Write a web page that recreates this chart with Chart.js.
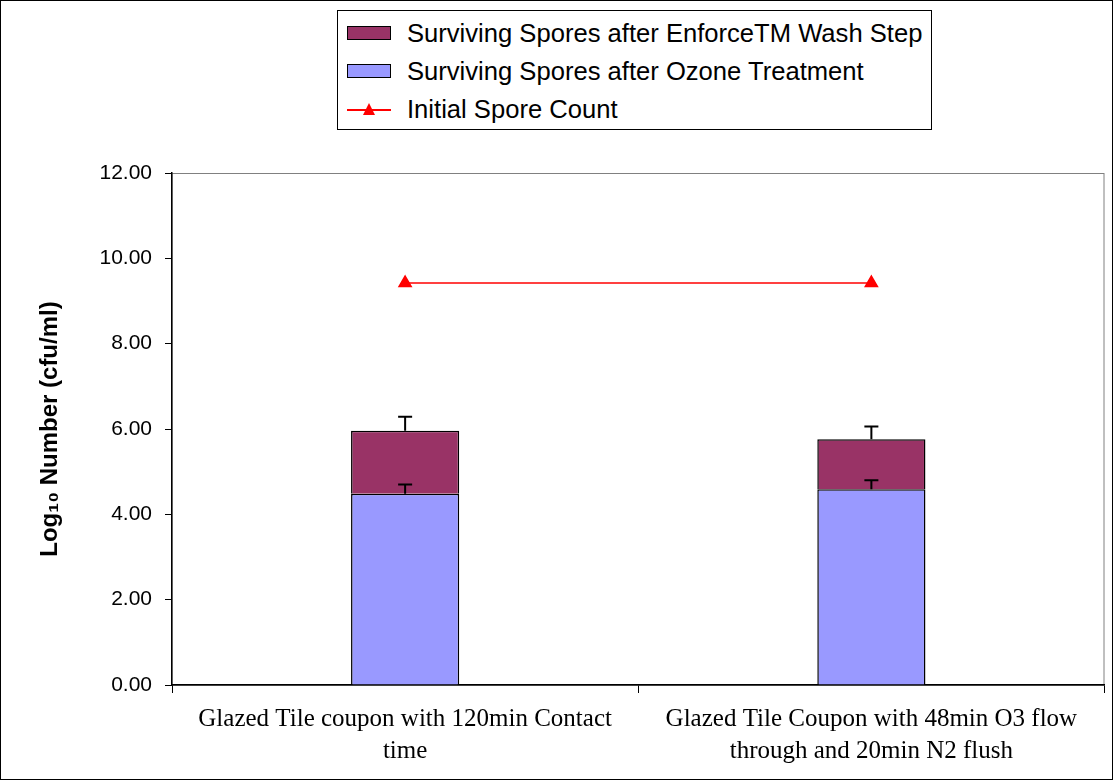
<!DOCTYPE html>
<html>
<head>
<meta charset="utf-8">
<script src="https://cdn.jsdelivr.net/npm/chart.js@4.4.1/dist/chart.umd.min.js"></script>
<style>
  html, body { margin: 0; padding: 0; background: #fff; }
  #wrap { position: relative; width: 1113px; height: 780px; }
  #legend {
    position: absolute; left: 337px; top: 10px; width: 595px; height: 120px;
    border: 1px solid #000; background: #fff;
    font: 25.6px "Liberation Sans", Arial, sans-serif; color: #000;
    box-sizing: border-box; padding-top: 3px;
  }
  .row { height: 38px; display: flex; align-items: center; padding-left: 9px; }
  .row span { margin-left: 16px; white-space: nowrap; }
  .swatch { width: 42px; height: 12px; border: 1.5px solid #000; }
  .lineSw { width: 44px; height: 14px; position: relative; }
  .lineSw:before { content: ""; position: absolute; left: 0; right: 0; top: 7px; height: 1.5px; background: #f00; }
  .lineSw:after { content: ""; position: absolute; left: 16px; top: 1px; border-left: 6px solid transparent; border-right: 6px solid transparent; border-bottom: 12px solid #f00; }
</style>
</head>
<body>
<div id="wrap">
  <canvas id="chart" width="1113" height="780"></canvas>
  <div id="legend">
    <div class="row"><div class="swatch" style="background:#993366"></div><span>Surviving Spores after EnforceTM Wash Step</span></div>
    <div class="row"><div class="swatch" style="background:#9999ff"></div><span>Surviving Spores after Ozone Treatment</span></div>
    <div class="row"><div class="lineSw"></div><span>Initial Spore Count</span></div>
  </div>
</div>
<script>
const categories = [
  ["Glazed Tile coupon with 120min Contact", "time"],
  ["Glazed Tile Coupon with 48min O3 flow", "through and 20min N2 flush"],
];
const ozoneSurvivors = [4.48, 4.59];
const ozoneErr = [0.22, 0.21];
const washSurvivors = [1.48, 1.17];
const washErr = [0.33, 0.30];
const initialCount = [9.42, 9.42];

// upper error bars on each stacked segment
const errorBars = {
  id: "errorBars",
  afterDatasetsDraw(chart) {
    const ctx = chart.ctx;
    const y = chart.scales.y;
    ctx.save();
    ctx.strokeStyle = "#000";
    ctx.lineWidth = 2;
    for (let i = 0; i < categories.length; i++) {
      const segs = [
        { meta: chart.getDatasetMeta(0), top: ozoneSurvivors[i], err: ozoneErr[i] },
        { meta: chart.getDatasetMeta(1), top: ozoneSurvivors[i] + washSurvivors[i], err: washErr[i] },
      ];
      for (const s of segs) {
        const bar = s.meta.data[i];
        const y0 = y.getPixelForValue(s.top);
        const y1 = y.getPixelForValue(s.top + s.err);
        ctx.beginPath();
        ctx.moveTo(bar.x, y0);
        ctx.lineTo(bar.x, y1);
        ctx.moveTo(bar.x - 7, y1);
        ctx.lineTo(bar.x + 7, y1);
        ctx.stroke();
      }
    }
    ctx.restore();
  },
};

const frames = {
  id: "frames",
  beforeDraw(chart) {
    const { ctx, chartArea } = chart;
    ctx.save();
    ctx.strokeStyle = "#808080";
    ctx.lineWidth = 1;
    ctx.strokeRect(chartArea.left, chartArea.top + 0.5, chartArea.right - chartArea.left - 0.5, chartArea.bottom - chartArea.top);
    ctx.restore();
  },
  afterDraw(chart) {
    const ctx = chart.ctx;
    ctx.save();
    ctx.strokeStyle = "#000";
    ctx.lineWidth = 1;
    ctx.strokeRect(0.5, 0.5, chart.width - 1, chart.height - 1);
    ctx.restore();
  },
};

new Chart(document.getElementById("chart").getContext("2d"), {
  type: "bar",
  data: {
    labels: categories,
    datasets: [
      {
        label: "Surviving Spores after Ozone Treatment",
        data: ozoneSurvivors,
        backgroundColor: "#9999ff",
        borderColor: "#000",
        borderWidth: 1.5,
        stack: "spores",
        barPercentage: 0.232,
        categoryPercentage: 1,
        order: 2,
      },
      {
        label: "Surviving Spores after EnforceTM Wash Step",
        data: washSurvivors,
        backgroundColor: "#993366",
        borderColor: "#000",
        borderWidth: 1.5,
        stack: "spores",
        barPercentage: 0.232,
        categoryPercentage: 1,
        order: 2,
      },
      {
        type: "line",
        label: "Initial Spore Count",
        data: initialCount,
        borderColor: "#ff0000",
        borderWidth: 1.5,
        backgroundColor: "#ff0000",
        pointStyle: "triangle",
        pointRadius: 7,
        stack: "initial",
        order: 1,
      },
    ],
  },
  options: {
    responsive: false,
    animation: false,
    layout: { padding: { top: 173, right: 8, left: 0, bottom: 0 } },
    scales: {
      x: {
        stacked: true,
        grid: { drawOnChartArea: false, color: "#000", tickLength: 8, offset: true },
        border: { color: "#000", width: 1.5 },
        ticks: {
          color: "#000",
          padding: 10,
          maxRotation: 0,
          font: { family: "'Liberation Serif', 'Times New Roman', serif", size: 25, lineHeight: 1.28 },
        },
        afterFit(scale) { scale.height = 95; },
      },
      y: {
        stacked: true,
        min: 0,
        max: 12,
        grid: { drawOnChartArea: false, color: "#000", tickLength: 7 },
        border: { color: "#000", width: 1.5 },
        ticks: {
          stepSize: 2,
          color: "#000",
          padding: 13,
          font: { family: "'Liberation Sans', Arial, sans-serif", size: 21 },
          callback: (v) => v.toFixed(2),
        },
        title: {
          display: true,
          text: "Log\u2081\u2080 Number (cfu/ml)",
          color: "#000",
          padding: { top: 36, bottom: 0 },
          font: { family: "'Liberation Sans', Arial, sans-serif", size: 24, weight: "bold" },
        },
        afterFit(scale) { scale.width = 172; },
      },
    },
    plugins: {
      legend: { display: false },
      tooltip: { enabled: false },
    },
  },
  plugins: [errorBars, frames],
});
</script>
</body>
</html>
